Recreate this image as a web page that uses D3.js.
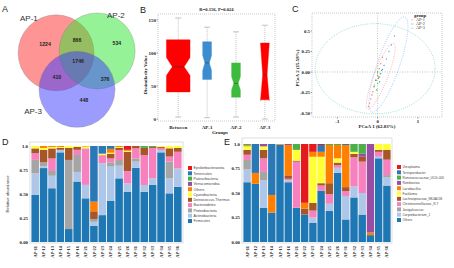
<!DOCTYPE html>
<html><head><meta charset="utf-8">
<script src="https://cdn.jsdelivr.net/npm/d3@7"></script>
<style>body{margin:0;background:#fff}svg{display:block}</style>
</head><body><svg id="c" width="454" height="268"></svg>
<script>
// ---------------- DATA ----------------
// Panel A: Venn
const vennSets = ["AP-1", "AP-2", "AP-3"];
const vennColors = ["#ff2a2a", "#2ee62e", "#3a3aff"];
const vennRegionLabels = ["1224", "866", "534", "1746", "410", "376", "448"];
// Panel B: boxplot
const boxGroups = ["Between", "AP-1", "AP-2", "AP-3"];
const boxN = [108, 15, 15, 15];
const boxMin = [3, 2, 3, 0];
const boxQ1 = [41, 60, 33, 29];
const boxMed = [79, 85, 54, 67];
const boxQ3 = [120, 117, 85, 115];
const boxMax = [153, 139, 132, 142];
const boxNotchLo = [66, 74, 44, 28];
const boxNotchHi = [93, 96, 64, 115];
const boxColors = ["#ff0000", "#3b8dd0", "#3dbb3d", "#ff0000"];
const boxTicks = [0, 50, 100, 150];
const boxTitle = "R=0.156, P=0.024";
// Panel C: PCoA
const pcoaGroups = ["AP-1", "AP-2", "AP-3"];
const pcoaColors = ["#F8766D", "#00BA38", "#619CFF"];
const pcoaAP1x = [-0.22, -0.17, -0.12, -0.08, -0.05, 0.0, 0.04, 0.08, 0.12, -0.14, 0.02, -0.2];
const pcoaAP1y = [-0.42, -0.33, -0.24, -0.16, -0.1, -0.04, 0.04, 0.1, 0.18, -0.28, -0.08, -0.38];
const pcoaAP2x = [-0.04, 0.02, 0.07, -0.09, 0.1, 0.05, -0.02, 0.0];
const pcoaAP2y = [-0.1, -0.06, -0.02, -0.18, 0.02, -0.12, -0.22, 0.0];
const pcoaAP3x = [0.0, 0.08, 0.16, 0.22, 0.28, 0.34, 0.12, 0.42, 0.05];
const pcoaAP3y = [-0.14, -0.02, 0.08, 0.16, 0.25, 0.33, 0.03, 0.44, -0.06];
// ellipses: centre and two half-axis vectors (data units)
const ellCx = [0.08, -0.06, 0.27];
const ellCy = [-0.05, 0.04, 0.09];
const ellUx = [0.32, 1.49, 0.41];
const ellUy = [0.40, 0.0, 0.58];
const ellVx = [0.16, 0.0, 0.26];
const ellVy = [-0.03, 0.55, -0.044];
const pcoaXTicks = [-1, 0, 1];
const pcoaYTicks = [0.5, 0.25, 0, -0.25, -0.5];
const pcoaYTickLabels = ["0.5", "0.25", "0.00", "-0.25", "-0.50"];
const pcoaXTitle = "PCoA 1 (62.83%)";
const pcoaYTitle = "PCoA 2 (15.58%)";
// Panels D/E: stacked bars
const samples = ["AP-11","AP-12","AP-13","AP-14","AP-15","AP-16","AP-21","AP-22","AP-23","AP-24","AP-25","AP-26","AP-31","AP-32","AP-33","AP-34","AP-35","AP-36"];
const stackColors = ["#1f77b4", "#aec7e8", "#a5a5a5", "#f781bf", "#a65628", "#ffff33", "#ff7f00", "#984ea3", "#4daf4a", "#2a78b6", "#e41a1c"];
// D series (bottom to top)
const phylumNames = ["Firmicutes", "Actinobacteria", "Proteobacteria", "Bacteroidetes", "Deinococcus-Thermus", "Cyanobacteria", "Others", "Verrucomicrobia", "Patescibacteria", "Tenericutes", "Epsilonbacteraeota"];
const dFirmicutes      = [0.49, 0.77, 0.56, 0.934, 0.135, 0.63, 0.455, 0.17, 0.28, 0.427, 0.663, 0.524, 0.774, 0.524, 0.594, 0.934, 0.507, 0.576];
const dActinobacteria  = [0.225, 0.02, 0.13, 0.026, 0.0, 0.10, 0.14, 0.04, 0.54, 0.358, 0.132, 0.086, 0.063, 0.07, 0.069, 0.024, 0.156, 0.191];
const dProteobacteria  = [0.14, 0.04, 0.05, 0.0, 0.72, 0.176, 0.0, 0.03, 0.0, 0.045, 0.059, 0.0, 0.033, 0.0, 0.0, 0.0, 0.174, 0.0];
const dBacteroidetes   = [0.07, 0.0, 0.13, 0.0, 0.0, 0.054, 0.38, 0.0, 0.085, 0.04, 0.104, 0.13, 0.106, 0.312, 0.317, 0.022, 0.053, 0.173];
const dDeinococcus     = [0.05, 0.13, 0.105, 0.02, 0.125, 0.03, 0.0, 0.08, 0.0, 0.05, 0.022, 0.20, 0.024, 0.074, 0.01, 0.01, 0.086, 0.04];
const dCyanobacteria   = [0.025, 0.02, 0.015, 0.01, 0.02, 0.01, 0.02, 0.0, 0.015, 0.01, 0.01, 0.01, 0.0, 0.0, 0.0, 0.01, 0.024, 0.02];
const dOthers          = [0.0, 0.02, 0.01, 0.01, 0.0, 0.0, 0.005, 0.10, 0.0, 0.04, 0.01, 0.01, 0.0, 0.0, 0.0, 0.0, 0.0, 0.0];
const dVerrucomicrobia = [0, 0, 0, 0, 0, 0, 0, 0, 0, 0, 0, 0, 0, 0, 0, 0, 0, 0];
const dPatescibacteria = [0, 0, 0, 0, 0, 0, 0, 0, 0, 0, 0, 0, 0, 0.02, 0.01, 0, 0, 0];
const dTenericutes     = [0, 0, 0, 0, 0, 0, 0, 0.58, 0.08, 0.03, 0, 0, 0, 0, 0, 0, 0, 0];
const dEpsilon         = [0, 0, 0, 0, 0, 0, 0, 0, 0, 0, 0, 0.04, 0, 0, 0, 0, 0, 0];
// E series (bottom to top)
const genusNames = ["Others", "Corynebacterium_1", "Jeotgalicoccus", "Christensenellaceae_R-7", "Lachnospiraceae_NK4A136", "Facklamia", "Lactobacillus", "Romboutsia", "Ruminococcaceae_UCG-005", "Terrisporobacter", "Ureaplasma"];
const eOthers     = [0.61, 0.594, 0.35, 0.30, 0.993, 0.61, 0.35, 0.28, 0.194, 0.524, 0.316, 0.705, 0.23, 0.455, 0.28, 0.07, 0.854, 0.576];
const eCoryne     = [0.13, 0, 0.28, 0, 0, 0.02, 0, 0, 0.056, 0, 0.074, 0.052, 0.24, 0.111, 0.22, 0, 0.016, 0.087];
const eJeotgali   = [0.097, 0, 0.085, 0, 0, 0, 0, 0, 0, 0, 0, 0, 0, 0, 0, 0, 0, 0.02];
const eChristen   = [0.053, 0, 0.139, 0, 0, 0.015, 0.47, 0, 0.07, 0.052, 0.10, 0.028, 0.05, 0.299, 0.32, 0, 0.05, 0.157];
const eLachno     = [0.05, 0, 0.086, 0, 0, 0.035, 0.01, 0.06, 0.08, 0.024, 0.11, 0.025, 0.04, 0.035, 0.05, 0, 0.02, 0.10];
const eFacklamia  = [0.036, 0, 0.036, 0, 0, 0, 0.11, 0, 0.47, 0.27, 0, 0.044, 0, 0.02, 0, 0, 0.06, 0.06];
const eLacto      = [0.012, 0.111, 0, 0.18, 0.007, 0.31, 0, 0.06, 0.05, 0.05, 0.39, 0.136, 0.43, 0, 0, 0.027, 0, 0];
const eRombout    = [0, 0, 0.024, 0, 0, 0.01, 0, 0, 0, 0, 0, 0, 0, 0, 0.03, 0.903, 0, 0];
const eRumino     = [0.012, 0, 0, 0, 0, 0, 0.06, 0, 0, 0, 0.01, 0.01, 0, 0.08, 0.10, 0, 0, 0];
const eTerris     = [0, 0.295, 0, 0.52, 0, 0, 0, 0, 0, 0.07, 0, 0, 0.01, 0, 0, 0, 0, 0];
const eUreaplasma = [0, 0, 0, 0, 0, 0, 0, 0.60, 0.08, 0.01, 0, 0, 0, 0, 0, 0, 0, 0];
const stackTicks = [0, 0.25, 0.5, 0.75, 1.0];
const stackTickLabels = ["0.00", "0.25", "0.50", "0.75", "1.0"];

// ---------------- DRAW ----------------
const SERIF = "'Liberation Serif','DejaVu Serif',serif";
const SANS = "'Liberation Sans',Arial,sans-serif";
const svg = d3.select("#c");
svg.append("rect").attr("width", 454).attr("height", 268).attr("fill", "#fff");

// panel letters
const letters = [["A", 2, 12], ["B", 140, 13], ["C", 292, 12], ["D", 2, 145], ["E", 224, 145]];
svg.selectAll("text.pl").data(letters).enter().append("text")
  .attr("x", d => d[1]).attr("y", d => d[2]).text(d => d[0])
  .attr("font-family", SANS).attr("font-size", 9).attr("fill", "#222");

// ---- A: Venn ----
{
  const g = svg.append("g");
  const vx = d3.scaleLinear().domain([-1, 1]).range([39, 115]);
  const vy = d3.scaleLinear().domain([-1, 1]).range([27, 103]);
  const centres = [[-0.55, -0.32], [0.53, -0.37], [0.0, 0.64]];
  g.selectAll("circle").data(vennSets).enter().append("circle")
    .attr("cx", (d, i) => vx(centres[i][0])).attr("cy", (d, i) => vy(centres[i][1]))
    .attr("r", vx(1) - vx(0))
    .attr("fill", (d, i) => vennColors[i]).attr("fill-opacity", 0.5)
    .attr("stroke", "#777").attr("stroke-width", 0.3);
  const labelPos = [[-1.5, -1.17], [0.79, -1.24], [-1.39, 1.29]];
  g.selectAll("text.set").data(vennSets).enter().append("text")
    .attr("x", (d, i) => vx(labelPos[i][0])).attr("y", (d, i) => vy(labelPos[i][1]))
    .text(d => d).attr("font-family", SANS).attr("font-size", 8).attr("fill", "#333");
  const regPos = [[-0.84, -0.55], [0.0, -0.66], [1.05, -0.58], [0.03, -0.1], [-0.53, 0.32], [0.74, 0.37], [0.18, 0.92]];
  g.selectAll("text.reg").data(vennRegionLabels).enter().append("text")
    .attr("x", (d, i) => vx(regPos[i][0])).attr("y", (d, i) => vy(regPos[i][1]) + 1.8)
    .attr("text-anchor", "middle").text(d => d)
    .attr("font-family", SANS).attr("font-weight", "bold").attr("font-size", 5.2).attr("fill", "#222");
}

// ---- B: boxplot ----
{
  const g = svg.append("g");
  const L = 158, R = 275, T = 14, B = 121;
  const x = d3.scaleLinear().domain([0.3, 4.35]).range([L, R]);
  const y = d3.scaleLinear().domain([-3, 159]).range([B, T]);
  g.append("rect").attr("x", L).attr("y", T).attr("width", R - L).attr("height", B - T)
    .attr("fill", "none").attr("stroke", "#aaa").attr("stroke-width", 0.6).attr("stroke-dasharray", "1,1");
  const maxN = d3.max(boxN);
  boxGroups.forEach((grp, i) => {
    const cx = x(i + 1);
    const hw = 11.8 * Math.sqrt(boxN[i] / maxN);
    g.append("line").attr("x1", cx).attr("x2", cx).attr("y1", y(boxQ3[i])).attr("y2", y(boxMax[i]))
      .attr("stroke", "#999").attr("stroke-width", 0.6).attr("stroke-dasharray", "1,1");
    g.append("line").attr("x1", cx).attr("x2", cx).attr("y1", y(boxQ1[i])).attr("y2", y(boxMin[i]))
      .attr("stroke", "#999").attr("stroke-width", 0.6).attr("stroke-dasharray", "1,1");
    [boxMax[i], boxMin[i]].forEach(v => {
      g.append("line").attr("x1", cx - 3).attr("x2", cx + 3).attr("y1", y(v)).attr("y2", y(v))
        .attr("stroke", "#999").attr("stroke-width", 0.6);
    });
    const pts = [
      [cx - hw, y(boxQ1[i])], [cx - hw, y(boxNotchLo[i])], [cx - hw / 2, y(boxMed[i])], [cx - hw, y(boxNotchHi[i])], [cx - hw, y(boxQ3[i])],
      [cx + hw, y(boxQ3[i])], [cx + hw, y(boxNotchHi[i])], [cx + hw / 2, y(boxMed[i])], [cx + hw, y(boxNotchLo[i])], [cx + hw, y(boxQ1[i])]
    ];
    g.append("polygon").attr("points", pts.map(p => p.join(",")).join(" "))
      .attr("fill", boxColors[i]).attr("stroke", boxColors[i]).attr("stroke-width", 0.4);
    g.append("line").attr("x1", cx - hw / 2).attr("x2", cx + hw / 2).attr("y1", y(boxMed[i])).attr("y2", y(boxMed[i]))
      .attr("stroke", "#333").attr("stroke-width", 0.5);
    g.append("text").attr("x", cx).attr("y", 129).attr("text-anchor", "middle").text(grp)
      .attr("font-family", SERIF).attr("font-weight", "bold").attr("font-size", 5).attr("fill", "#222");
  });
  boxTicks.forEach(t => {
    g.append("line").attr("x1", L - 1.5).attr("x2", L).attr("y1", y(t)).attr("y2", y(t)).attr("stroke", "#444").attr("stroke-width", 0.5);
    g.append("text").attr("x", L - 2).attr("y", y(t) + 1.6).attr("text-anchor", "end").text(t)
      .attr("font-family", SERIF).attr("font-weight", "bold").attr("font-size", 5).attr("fill", "#222");
  });
  g.append("text").attr("x", (L + R) / 2).attr("y", 11).attr("text-anchor", "middle").text(boxTitle)
    .attr("font-family", SERIF).attr("font-weight", "bold").attr("font-size", 4.6).attr("fill", "#222");
  g.append("text").attr("x", 220).attr("y", 134).attr("text-anchor", "middle").text("Groups")
    .attr("font-family", SERIF).attr("font-weight", "bold").attr("font-size", 5).attr("fill", "#222");
  g.append("text").attr("transform", "translate(147,75) rotate(-90)").attr("text-anchor", "middle").text("Dissimilarity Value")
    .attr("font-family", SERIF).attr("font-weight", "bold").attr("font-size", 4.8).attr("fill", "#222");
}

// ---- C: PCoA ----
{
  const g = svg.append("g");
  const L = 312, R = 442, T = 13, B = 117;
  const x = d3.scaleLinear().domain([-1.63, 1.6]).range([L, R]);
  const y = d3.scaleLinear().domain([-0.549, 0.72]).range([B, T]);
  g.append("rect").attr("x", L).attr("y", T).attr("width", R - L).attr("height", B - T)
    .attr("fill", "none").attr("stroke", "#aaa").attr("stroke-width", 0.6).attr("stroke-dasharray", "1,1");
  g.append("line").attr("x1", x(0)).attr("x2", x(0)).attr("y1", T).attr("y2", B)
    .attr("stroke", "#999").attr("stroke-width", 0.6).attr("stroke-dasharray", "1,1.5");
  g.append("line").attr("x1", L).attr("x2", R).attr("y1", y(0)).attr("y2", y(0))
    .attr("stroke", "#999").attr("stroke-width", 0.6).attr("stroke-dasharray", "1,1.5");
  const ellColors = ["#f08a84", "#62d0b0", "#79a9f5"];
  ellCx.forEach((c, i) => {
    const ts = d3.range(0, 2 * Math.PI + 0.01, Math.PI / 60);
    const line = d3.line().x(t => x(c + ellUx[i] * Math.cos(t) + ellVx[i] * Math.sin(t)))
      .y(t => y(ellCy[i] + ellUy[i] * Math.cos(t) + ellVy[i] * Math.sin(t)));
    g.append("path").attr("d", line(ts)).attr("fill", "none").attr("stroke", ellColors[i])
      .attr("stroke-width", 0.6).attr("stroke-dasharray", "1,1.2");
  });
  const sets = [[pcoaAP1x, pcoaAP1y], [pcoaAP2x, pcoaAP2y], [pcoaAP3x, pcoaAP3y]];
  sets.forEach((s, i) => {
    g.selectAll(null).data(s[0]).enter().append("circle")
      .attr("cx", d => x(d)).attr("cy", (d, j) => y(s[1][j])).attr("r", 0.7).attr("fill", pcoaColors[i]);
  });
  pcoaXTicks.forEach(t => {
    g.append("line").attr("x1", x(t)).attr("x2", x(t)).attr("y1", B).attr("y2", B + 1.5).attr("stroke", "#444").attr("stroke-width", 0.5);
    g.append("text").attr("x", x(t)).attr("y", B + 6).attr("text-anchor", "middle").text(t)
      .attr("font-family", SERIF).attr("font-weight", "bold").attr("font-size", 4.8).attr("fill", "#222");
  });
  pcoaYTicks.forEach((t, i) => {
    g.append("line").attr("x1", L - 1.5).attr("x2", L).attr("y1", y(t)).attr("y2", y(t)).attr("stroke", "#444").attr("stroke-width", 0.5);
    g.append("text").attr("x", L - 2).attr("y", y(t) + 1.6).attr("text-anchor", "end").text(pcoaYTickLabels[i])
      .attr("font-family", SERIF).attr("font-weight", "bold").attr("font-size", 4.8).attr("fill", "#222");
  });
  g.append("text").attr("x", (L + R) / 2).attr("y", 128).attr("text-anchor", "middle").text(pcoaXTitle)
    .attr("font-family", SERIF).attr("font-weight", "bold").attr("font-size", 5).attr("fill", "#222");
  g.append("text").attr("transform", "translate(299,68) rotate(-90)").attr("text-anchor", "middle").text(pcoaYTitle)
    .attr("font-family", SERIF).attr("font-weight", "bold").attr("font-size", 5).attr("fill", "#222");
  g.append("text").attr("x", 414).attr("y", 17).text("group")
    .attr("font-family", SERIF).attr("font-weight", "bold").attr("font-size", 4.8).attr("fill", "#222");
  pcoaGroups.forEach((gr, i) => {
    const yy = 21 + i * 4.2;
    g.append("line").attr("x1", 411).attr("x2", 414).attr("y1", yy - 1.2).attr("y2", yy - 1.2)
      .attr("stroke", pcoaColors[i]).attr("stroke-width", 0.6).attr("stroke-dasharray", "0.8,0.6");
    g.append("text").attr("x", 416).attr("y", yy).text(gr)
      .attr("font-family", SERIF).attr("font-size", 4.2).attr("fill", "#333");
  });
}

// ---- D/E stacked bars ----
function stacked(seriesArr, names, L, R, T, yTop, legendX, legendY, withTitle, legendFont) {
  const g = svg.append("g");
  const B = 243;
  const x = d3.scaleBand().domain(samples).range([L, R]).paddingInner(0.1).paddingOuter(0.05);
  const y = d3.scaleLinear().domain([0, 1]).range([242, yTop]);
  const table = samples.map((s, j) => {
    const o = { sample: s };
    names.forEach((n, k) => o[n] = seriesArr[k][j]);
    return o;
  });
  const st = d3.stack().keys(names)(table);
  g.append("rect").attr("x", L - 1).attr("y", T).attr("width", R - L + 2).attr("height", B - T)
    .attr("fill", "#fff").attr("stroke", "#c8c8c8").attr("stroke-width", 0.6);
  st.forEach((layer, k) => {
    g.selectAll(null).data(layer).enter().append("rect")
      .attr("x", d => x(d.data.sample)).attr("width", x.bandwidth())
      .attr("y", d => y(d[1])).attr("height", d => Math.max(0, y(d[0]) - y(d[1])))
      .attr("fill", stackColors[k]);
  });
  stackTicks.forEach((t, i) => {
    g.append("text").attr("x", L - 3).attr("y", y(t) + 1.6).attr("text-anchor", "end").text(stackTickLabels[i])
      .attr("font-family", SERIF).attr("font-weight", "bold").attr("font-size", 4.8).attr("fill", "#222");
  });
  samples.forEach(s => {
    g.append("text").attr("transform", `translate(${x(s) + x.bandwidth() / 2 + 1.6},${B + 3}) rotate(-90)`)
      .attr("text-anchor", "end").text(s)
      .attr("font-family", SERIF).attr("font-weight", "bold").attr("font-size", 4.4).attr("fill", "#222");
  });
  const rev = names.map((n, k) => k).reverse();
  rev.forEach((k, i) => {
    const yy = legendY + i * 5.3;
    g.append("rect").attr("x", legendX).attr("y", yy - 2).attr("width", 4).attr("height", 4).attr("fill", stackColors[k]);
    g.append("text").attr("x", legendX + 5.5).attr("y", yy + 1.3).text(names[k])
      .attr("font-family", SANS).attr("font-size", legendFont).attr("fill", "#444");
  });
  if (withTitle) {
    g.append("text").attr("transform", `translate(9,${(y(0) + y(1)) / 2}) rotate(-90)`).attr("text-anchor", "middle")
      .text("Relative abundance").attr("font-family", SANS).attr("font-size", 4.2).attr("fill", "#333");
  }
}
stacked([dFirmicutes, dActinobacteria, dProteobacteria, dBacteroidetes, dDeinococcus, dCyanobacteria, dOthers, dVerrucomicrobia, dPatescibacteria, dTenericutes, dEpsilon],
  phylumNames, 31, 182, 142, 146, 188, 168, true, 3.6);
stacked([eOthers, eCoryne, eJeotgali, eChristen, eLachno, eFacklamia, eLacto, eRombout, eRumino, eTerris, eUreaplasma],
  genusNames, 243, 391, 138, 144, 397, 167, false, 3.2);
</script></body></html>
